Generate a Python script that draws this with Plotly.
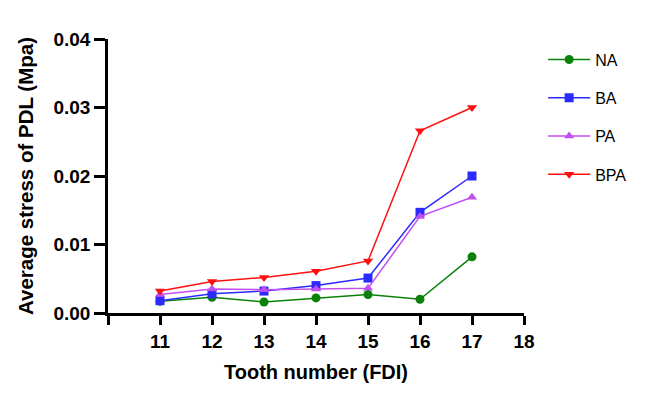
import plotly.graph_objects as go

teeth = [11, 12, 13, 14, 15, 16, 17]
tick_vals = [10, 11, 12, 13, 14, 15, 16, 17, 18]
tick_text = ["", "11", "12", "13", "14", "15", "16", "17", "18"]
na = [0.0017, 0.0023, 0.0016, 0.0022, 0.0027, 0.0020, 0.0082]
ba = [0.0018, 0.0028, 0.0032, 0.0040, 0.0051, 0.0147, 0.0200]
pa = [0.0027, 0.0035, 0.0034, 0.0035, 0.0036, 0.0141, 0.0169]
bpa = [0.0032, 0.0046, 0.0052, 0.0061, 0.0076, 0.0266, 0.0300]

series = [
    ("NA", na, "#0a820a", "circle"),
    ("BA", ba, "#2b2bff", "square"),
    ("PA", pa, "#c04ff0", "triangle-up"),
    ("BPA", bpa, "#ff1010", "triangle-down"),
]

fig = go.Figure()
for name, vals, color, sym in series:
    fig.add_trace(go.Scatter(
        x=teeth, y=vals, name=name, mode="lines+markers",
        line=dict(color=color, width=1.5),
        marker=dict(symbol=sym, size=9, color=color),
        legendgroup=name,
    ))

font_family = "Liberation Sans, Arial, sans-serif"
# page body has an 8px default margin, so the figure is sized 8px smaller
fig.update_layout(
    width=642, height=397,
    margin=dict(l=100, r=126, t=31, b=92),
    paper_bgcolor="white", plot_bgcolor="white",
    font=dict(family=font_family, color="black"),
    showlegend=True,
    legend=dict(x=1.046, y=0.987, xanchor="left", yanchor="top",
                font=dict(size=16, family=font_family),
                tracegroupgap=14.5, itemwidth=42),
    xaxis=dict(range=[10, 18], tickvals=tick_vals, ticktext=tick_text,
               showline=True, linecolor="black", linewidth=2.5,
               ticks="outside", ticklen=9, tickwidth=2.5, tickcolor="black",
               showgrid=False, zeroline=False, automargin=False,
               tickfont=dict(size=19, weight="bold"),
               title=dict(text="Tooth number (FDI)",
                          font=dict(size=20, weight="bold"))),
    yaxis=dict(range=[0, 0.04], tickvals=[0, 0.01, 0.02, 0.03, 0.04], tickformat=".2f",
               showline=True, linecolor="black", linewidth=2.5,
               ticks="outside", ticklen=11, tickwidth=2.5, tickcolor="black",
               showgrid=False, zeroline=False, automargin=False,
               tickfont=dict(size=19, weight="bold"),
               title=dict(text="Average stress of PDL (Mpa)",
                          font=dict(size=20.5, weight="bold"))),
)

fig.write_html("out.html")
